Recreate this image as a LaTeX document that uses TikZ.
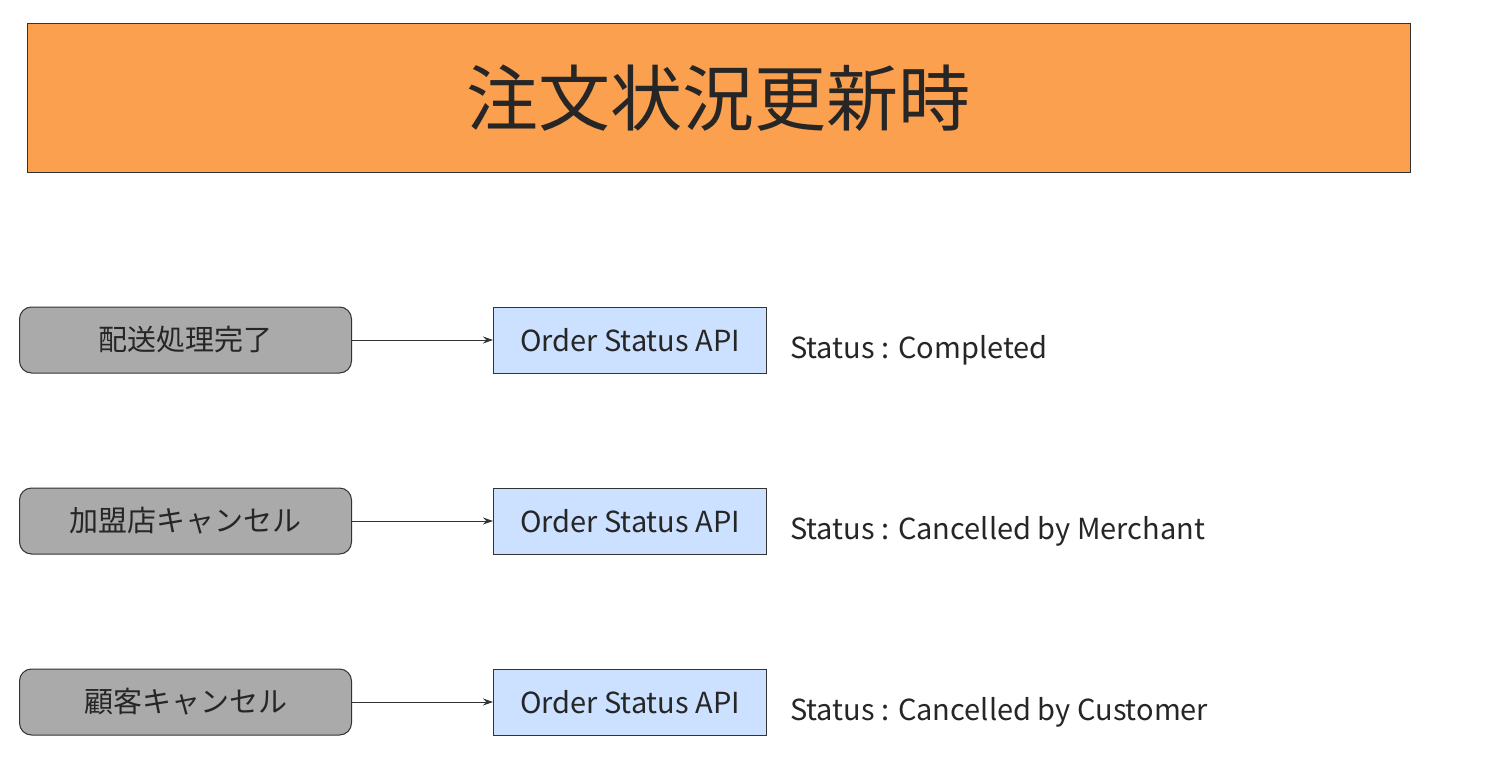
\documentclass[tikz,border=0pt]{standalone}
\usepackage{fontspec}
\setmainfont{Noto Sans CJK JP}
\usetikzlibrary{arrows.meta,positioning}
\definecolor{titleorange}{HTML}{FBA04F}
\definecolor{eventgray}{HTML}{AAAAAA}
\definecolor{apiblue}{HTML}{CCE0FF}
\begin{document}
\begin{tikzpicture}[x=1pt,y=-1pt,
    every node/.style={font=\fontsize{29}{29}\selectfont, text=black!85},
    event/.style={draw=black!80, line width=1pt, fill=eventgray, rounded corners=12pt,
        minimum width=332pt, minimum height=66pt, anchor=west},
    api/.style={draw=black!80, line width=1pt, fill=apiblue,
        minimum width=273pt, minimum height=66pt, inner sep=0pt, anchor=west},
    status/.style={anchor=west, inner sep=0pt},
    flow/.style={-{Stealth[length=10pt,width=7pt]}, line width=1pt, draw=black!80}]
    \useasboundingbox (0,0) rectangle (1492,768);

    % Title banner
    \node[draw=black!80, line width=1pt, fill=titleorange, minimum width=1383pt,
        minimum height=148pt, font=\fontsize{72}{72}\selectfont] (title) at (718.5,98) {注文状況更新時};

    % Events and API calls
    \foreach \name/\ev/\st [count=\i] in {done/配送処理完了/Completed,
        merchant/加盟店キャンセル/Cancelled by Merchant,
        customer/顧客キャンセル/Cancelled by Customer} {
        \node[event] (ev\name) at (19,{340+(\i-1)*181}) {\ev};
        \node[api] (api\name) at (493,{340+(\i-1)*181}) {Order Status API};
        \node[status] (st\name) at (790,{350+(\i-1)*181}) {Status : \st};
        \draw[flow] (ev\name) -- (api\name);
    }
\end{tikzpicture}
\end{document}
